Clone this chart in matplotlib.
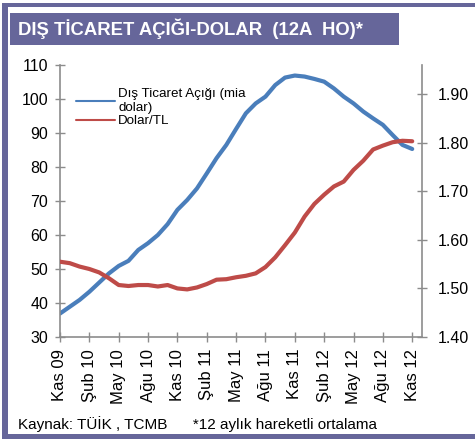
import matplotlib.pyplot as plt
import matplotlib.patches as mpatches
import numpy as np

plt.rcParams['font.family'] = ['Liberation Sans', 'DejaVu Sans']

# aylar: Kas 09 .. Kas 12
aylar = ['Kas 09', 'Ara 09', 'Oca 10', 'Şub 10', 'Mar 10', 'Nis 10', 'May 10', 'Haz 10', 'Tem 10',
         'Ağu 10', 'Eyl 10', 'Eki 10', 'Kas 10', 'Ara 10', 'Oca 11', 'Şub 11', 'Mar 11', 'Nis 11',
         'May 11', 'Haz 11', 'Tem 11', 'Ağu 11', 'Eyl 11', 'Eki 11', 'Kas 11', 'Ara 11', 'Oca 12',
         'Şub 12', 'Mar 12', 'Nis 12', 'May 12', 'Haz 12', 'Tem 12', 'Ağu 12', 'Eyl 12', 'Eki 12',
         'Kas 12']

# dis ticaret acigi (mia dolar), 12 aylik hareketli ortalama
dis_ticaret = [36.9, 38.9, 40.9, 43.3, 46.0, 48.7, 50.9, 52.4, 55.6, 57.6, 60.0, 63.2, 67.4,
               70.3, 73.7, 78.1, 82.6, 86.5, 91.2, 95.8, 98.7, 100.7, 104.1, 106.3, 106.9,
               106.6, 105.9, 105.1, 103.1, 100.7, 98.7, 96.3, 94.3, 92.4, 89.4, 86.5, 85.3]

# dolar/TL
dolar_tl = [1.555, 1.552, 1.545, 1.540, 1.533, 1.521, 1.507, 1.505, 1.507, 1.507, 1.504, 1.507,
            1.500, 1.498, 1.502, 1.509, 1.518, 1.519, 1.523, 1.526, 1.531, 1.544, 1.564, 1.589,
            1.615, 1.648, 1.674, 1.693, 1.710, 1.720, 1.744, 1.763, 1.786, 1.794, 1.801, 1.804,
            1.803]

mavi = '#4A7EBB'
kirmizi = '#BE4B48'
mor = '#66669A'
gri = '#8C8C8C'

fig = plt.figure(figsize=(4.75, 4.41), dpi=100)

# cerceve
fig.patches.append(mpatches.Rectangle((2/475, 1 - 439/441), 6/475, 436/441, transform=fig.transFigure,
                                      facecolor=mor, edgecolor='none'))
fig.patches.append(mpatches.Rectangle((2/475, 1 - 7/441), 473/475, 4/441, transform=fig.transFigure,
                                      facecolor=mor, edgecolor='none'))
fig.patches.append(mpatches.Rectangle((2/475, 1 - 439/441), 473/475, 5/441, transform=fig.transFigure,
                                      facecolor=mor, edgecolor='none'))
# baslik kutusu
fig.patches.append(mpatches.Rectangle((10/475, 1 - 45/441), 389/475, 32/441, transform=fig.transFigure,
                                      facecolor=mor, edgecolor='none'))
fig.text(18/475, 1 - 29/441, 'DIŞ TİCARET AÇIĞI-DOLAR  (12A  HO)*', color='white', fontsize=13.3,
         fontweight='bold', ha='left', va='center')

ax = fig.add_axes([60/475, 1 - 337/441, 362/475, 272/441])
x = np.arange(len(aylar))

l1, = ax.plot(x, dis_ticaret, color=mavi, lw=3, solid_capstyle='round')
ax2 = ax.twinx()
l2, = ax2.plot(x, dolar_tl, color=kirmizi, lw=3, solid_capstyle='round')

ax.set_xlim(0, 37)
ax.set_ylim(30, 110)
ax.set_yticks(range(30, 111, 10))
ax2.set_ylim(1.40, 1.96)
ax2.set_yticks([1.40, 1.50, 1.60, 1.70, 1.80, 1.90])
ax2.set_yticklabels(['1.40', '1.50', '1.60', '1.70', '1.80', '1.90'])

ax.set_xticks(x[::3])
ax.set_xticklabels(aylar[::3], rotation=90)

for a in (ax, ax2):
    a.spines['top'].set_visible(False)
    for s in a.spines.values():
        s.set_color(gri)
        s.set_linewidth(1.2)
    a.tick_params(colors=gri, labelcolor='black', labelsize=11.5, direction='inout', length=7, width=1)
ax.spines['right'].set_visible(False)
ax2.spines['left'].set_visible(False)
ax2.spines['bottom'].set_visible(False)
ax.tick_params(axis='y', pad=5)
ax2.tick_params(axis='y', pad=8)
ax.tick_params(axis='x', pad=5, labelsize=12)

leg = ax.legend([l1, l2], ['Dış Ticaret Açığı (mia\ndolar)', 'Dolar/TL'], loc='upper left',
                bbox_to_anchor=(0.03, 0.935), borderaxespad=0, frameon=False, fontsize=9.6,
                handlelength=2.9, handletextpad=0.25, labelspacing=0.1)
for h in leg.legend_handles:
    h.set_linewidth(1.5)

fig.text(18/475, 1 - 424/441, 'Kaynak: TÜİK , TCMB      *12 aylık hareketli ortalama', fontsize=11,
         ha='left', va='center')

fig.savefig('out.png', dpi=100)
